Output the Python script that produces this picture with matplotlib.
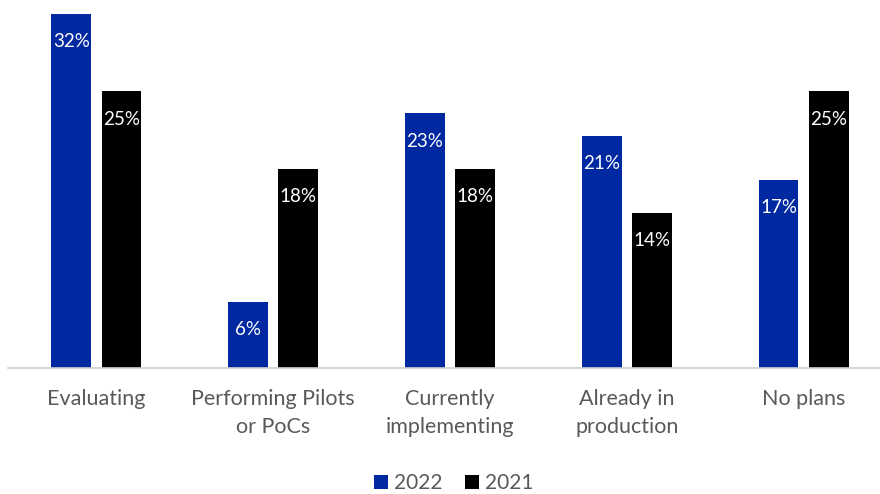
import numpy as np
from matplotlib import pyplot as plt

plt.rcParams['font.family'] = ['Lato', 'DejaVu Sans']

categories = ["Evaluating", "Performing Pilots\nor PoCs", "Currently\nimplementing",
              "Already in\nproduction", "No plans"]
values_2022 = [32, 6, 23, 21, 17]
values_2021 = [25, 18, 18, 14, 25]

blue = "#0028A0"
black = "#000000"
grey = "#595959"

fig = plt.figure(figsize=(8.8, 4.94), dpi=100)
ax = fig.add_axes([8 / 880, 1 - 368 / 494, 884 / 880, 362 / 494])

x = np.arange(len(categories))
w = 0.225
off = 0.142
b1 = ax.bar(x - off, values_2022, w, color=blue, label="2022")
b2 = ax.bar(x + off, values_2021, w, color=black, label="2021")

for bars in (b1, b2):
    for bar in bars:
        h = bar.get_height()
        ax.annotate(f"{h:.0f}%", (bar.get_x() + bar.get_width() / 2, h),
                    xytext=(0, -20), textcoords="offset points",
                    ha="center", va="center", color="white", fontsize=13.5)

ax.set_xlim(-0.5, 4.5)
ax.set_ylim(0, 32.7)
ax.set_yticks([])
ax.set_xticks(x)
ax.set_xticklabels(categories, fontsize=15.5, color=grey, linespacing=1.5)
ax.tick_params(axis="x", length=0, pad=15)
for s in ("top", "right", "left"):
    ax.spines[s].set_visible(False)
ax.spines["bottom"].set_color("#d0d0d0")
ax.spines["bottom"].set_linewidth(1.2)

fig.legend(loc="center", bbox_to_anchor=(454 / 880, 1 - 483 / 494), ncol=2,
           frameon=False, fontsize=15, handlelength=0.65, handleheight=0.65,
           handletextpad=0.3, columnspacing=1.1, labelcolor=grey)

fig.savefig("out.png", dpi=100)
